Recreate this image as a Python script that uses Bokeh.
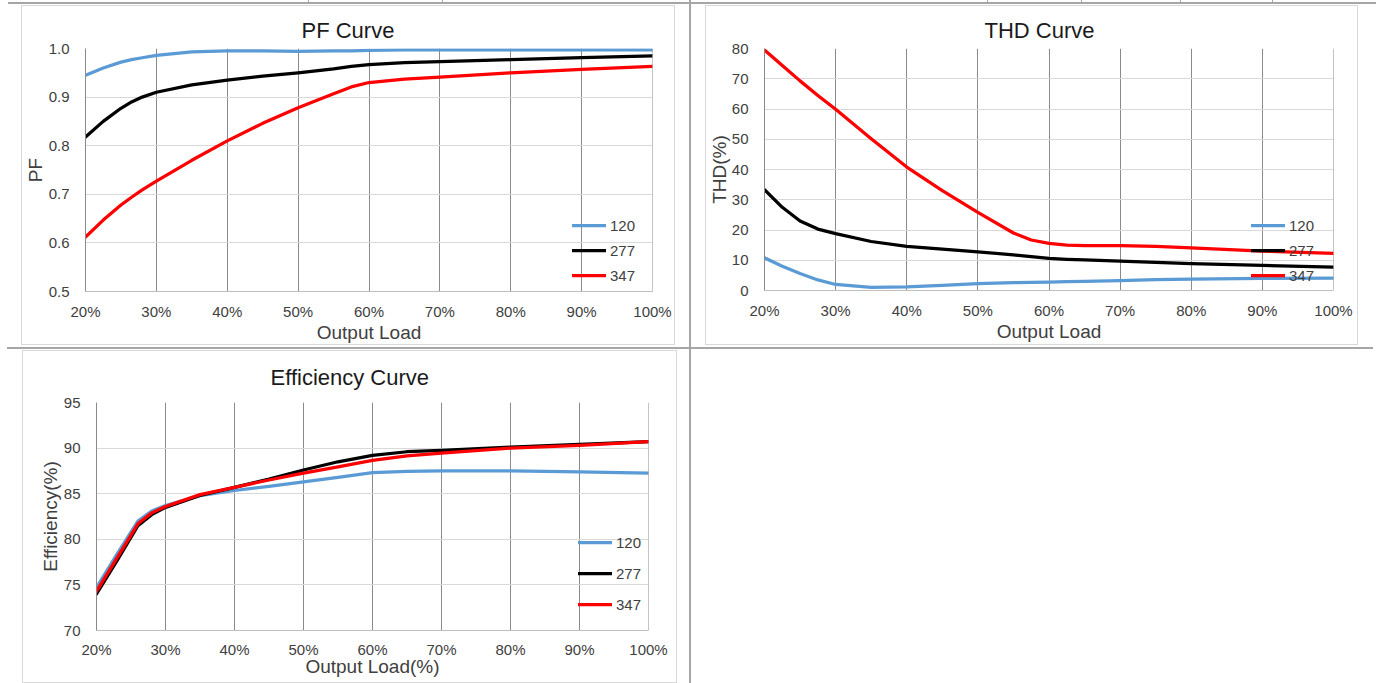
from bokeh.plotting import figure
from bokeh.models import Legend, LegendItem, FixedTicker, Span, Spacer
from bokeh.layouts import column, row
from bokeh.embed import file_html
from bokeh.resources import INLINE

# ---------------- data ----------------
series_names = ["120", "277", "347"]
series_colors = ["#5B9BD5", "#000000", "#FF0000"]

x_ticks = [20, 30, 40, 50, 60, 70, 80, 90, 100]
x_tick_labels = ["20%", "30%", "40%", "50%", "60%", "70%", "80%", "90%", "100%"]

load_pf = [20, 22.5, 25, 26.5, 28, 30, 35, 40, 45, 50, 55, 57.5, 60, 65, 70, 80, 90, 100]
pf_120 = [0.945, 0.960, 0.972, 0.977, 0.981, 0.986, 0.993, 0.995, 0.995, 0.994, 0.995, 0.995, 0.996, 0.997, 0.997, 0.997, 0.997, 0.997]
pf_277 = [0.818, 0.850, 0.877, 0.890, 0.900, 0.910, 0.925, 0.935, 0.943, 0.950, 0.958, 0.963, 0.967, 0.971, 0.973, 0.977, 0.981, 0.985]
pf_347 = [0.612, 0.647, 0.678, 0.694, 0.709, 0.727, 0.770, 0.810, 0.846, 0.878, 0.907, 0.921, 0.930, 0.937, 0.941, 0.950, 0.957, 0.963]
pf_ticks = [0.5, 0.6, 0.7, 0.8, 0.9, 1.0]
pf_tick_labels = ["0.5", "0.6", "0.7", "0.8", "0.9", "1.0"]

load_thd = [20, 22.5, 25, 27.5, 30, 35, 40, 45, 50, 55, 57.5, 60, 62.5, 65, 70, 75, 80, 90, 100]
thd_120 = [10.8, 8.0, 5.6, 3.5, 2.0, 1.0, 1.2, 1.7, 2.3, 2.6, 2.7, 2.8, 2.9, 3.0, 3.3, 3.6, 3.8, 4.0, 4.1]
thd_277 = [33.3, 27.5, 23.0, 20.3, 18.8, 16.2, 14.6, 13.7, 12.8, 11.8, 11.2, 10.6, 10.3, 10.1, 9.7, 9.3, 8.9, 8.3, 7.7]
thd_347 = [79.5, 74.4, 69.3, 64.5, 59.9, 50.2, 40.8, 33.0, 25.8, 19.0, 16.7, 15.6, 15.0, 14.8, 14.8, 14.6, 14.1, 13.0, 12.3]
thd_ticks = [0, 10, 20, 30, 40, 50, 60, 70, 80]

load_eff = [20, 23, 26, 28, 30, 35, 40, 45, 50, 55, 60, 65, 70, 80, 90, 100]
eff_120 = [74.7, 78.4, 82.0, 83.1, 83.7, 84.8, 85.35, 85.8, 86.3, 86.8, 87.3, 87.45, 87.5, 87.5, 87.4, 87.25]
eff_277 = [74.0, 77.7, 81.5, 82.7, 83.5, 84.8, 85.7, 86.6, 87.6, 88.5, 89.2, 89.6, 89.75, 90.1, 90.4, 90.7]
eff_347 = [74.3, 78.0, 81.7, 82.9, 83.6, 84.9, 85.7, 86.5, 87.25, 87.95, 88.65, 89.15, 89.45, 90.0, 90.3, 90.7]
eff_ticks = [70, 75, 80, 85, 90, 95]

FONT = "Liberation Sans"
TXT = "#404040"
RULE = "#a6a6a6"
BOX = "#d9d9d9"


def make_chart(title, ylabel, xlabel, xs, ys_list, y_range, y_ticks, y_labels,
               width, height, left, right, top, bottom, title_offset, title_standoff,
               ylab_standoff, xtick_standoff, xlab_standoff, leg_loc, leg_spacing):
    p = figure(width=width, height=height, x_range=(20, 100), y_range=y_range,
               output_backend="svg", toolbar_location=None,
               min_border_left=left, min_border_right=right,
               min_border_top=top, min_border_bottom=bottom,
               styles={"outline": "1px solid " + BOX, "outline-offset": "-1px"})
    p.title.text = title
    p.title.align = "left"
    p.title.offset = title_offset
    p.title.standoff = title_standoff
    p.title.text_font = FONT
    p.title.text_font_size = "22px"
    p.title.text_font_style = "normal"
    p.title.text_color = "#1a1a1a"
    p.outline_line_color = None
    p.background_fill_color = "white"
    p.border_fill_color = "white"
    p.border_fill_alpha = 0

    p.xaxis.ticker = FixedTicker(ticks=x_ticks)
    p.xaxis.major_label_overrides = {t: l for t, l in zip(x_ticks, x_tick_labels)}
    p.yaxis.ticker = FixedTicker(ticks=y_ticks)
    p.yaxis.major_label_overrides = {t: l for t, l in zip(y_ticks, y_labels)}
    for ax in (p.xaxis[0], p.yaxis[0]):
        ax.major_tick_line_color = None
        ax.minor_tick_line_color = None
        ax.major_label_text_font = FONT
        ax.major_label_text_font_size = "15px"
        ax.major_label_text_color = TXT
        ax.axis_label_text_font = FONT
        ax.axis_label_text_font_size = "19px"
        ax.axis_label_text_font_style = "normal"
        ax.axis_label_text_color = TXT
    p.xaxis.axis_label = xlabel
    p.yaxis.axis_label = ylabel
    p.xaxis.axis_line_color = "#bfbfbf"
    p.yaxis.axis_line_color = "#8a8a8a"
    p.xaxis.major_label_standoff = xtick_standoff
    p.xaxis.axis_label_standoff = xlab_standoff
    p.yaxis.major_label_standoff = 10
    p.yaxis.axis_label_standoff = ylab_standoff

    p.xgrid.ticker = FixedTicker(ticks=x_ticks)
    p.xgrid.grid_line_color = "#8a8a8a"
    p.xgrid.grid_line_width = 1
    p.ygrid.ticker = FixedTicker(ticks=y_ticks)
    p.ygrid.grid_line_color = BOX
    p.ygrid.grid_line_width = 1
    p.add_layout(Span(location=x_ticks[-1], dimension="height",
                      line_color="#8a8a8a", line_width=1))

    items = []
    for name, color, ys in zip(series_names, series_colors, ys_list):
        r = p.line(xs, ys, line_color=color, line_width=3.25, line_join="round", line_cap="round")
        items.append(LegendItem(label=name, renderers=[r]))
    leg = Legend(items=items, location=leg_loc, orientation="vertical",
                 background_fill_alpha=0, border_line_color=None, padding=0, margin=0,
                 spacing=leg_spacing, label_height=20, glyph_height=20, glyph_width=34,
                 label_standoff=4, label_text_font=FONT, label_text_font_size="15px",
                 label_text_color=TXT)
    p.add_layout(leg)
    return p


def gap(w, h, color=None):
    if color:
        return Spacer(width=w, height=h, styles={"background-color": color})
    return Spacer(width=w, height=h)


# chart boxes: PF 21..675 x 5..345, THD 705..1358 x 5..345, Eff 22..677 x 350..683
p1 = make_chart("PF Curve", "PF", "Output Load", load_pf, [pf_120, pf_277, pf_347],
                (0.5, 1.0), pf_ticks, pf_tick_labels,
                654, 340, 61, 23, 43, 54, 216, 12, 0, 5, -1, (487, 6), 5)
p2 = make_chart("THD Curve", "THD(%)", "Output Load", load_thd, [thd_120, thd_277, thd_347],
                (0, 80), thd_ticks, [str(t) for t in thd_ticks],
                653, 340, 58, 25, 43, 55, 220, 12, -1, 5, -1, (487, 5), 5)
p3 = make_chart("Efficiency Curve", "Efficiency(%)", "Output Load(%)", load_eff,
                [eff_120, eff_277, eff_347],
                (70, 95), eff_ticks, [str(t) for t in eff_ticks],
                655, 333, 74, 29, 52, 53, 174, 25, 0, 4, -5, (482, 16), 11)

# small cell borders from the table row above (top strip)
top_strip = row(gap(308, 2), gap(1, 2, RULE), gap(133, 2), gap(1, 2, RULE),
                gap(246, 2), gap(2, 2, RULE), gap(296, 2), gap(1, 2, RULE),
                gap(93, 2), gap(1, 2, RULE), gap(98, 2), gap(1, 2, RULE),
                gap(91, 2), gap(1, 2, RULE), gap(103, 2))
top_rule = row(gap(8, 2), gap(1368, 2, RULE))
top_row = row(
    gap(21, 343),
    column(gap(654, 1), p1, gap(654, 2)),
    gap(14, 343),
    gap(2, 343, RULE),
    gap(14, 343),
    column(gap(653, 1), p2, gap(653, 2)),
    gap(18, 343),
)
mid_rule = row(gap(7, 2), gap(1366, 2, RULE))
bottom_row = row(
    gap(22, 334),
    column(gap(655, 1), p3),
    gap(12, 334),
    gap(2, 334, RULE),
)

layout = column(top_strip, top_rule, top_row, mid_rule, bottom_row)

open("out.html", "w").write(file_html(layout, INLINE))
